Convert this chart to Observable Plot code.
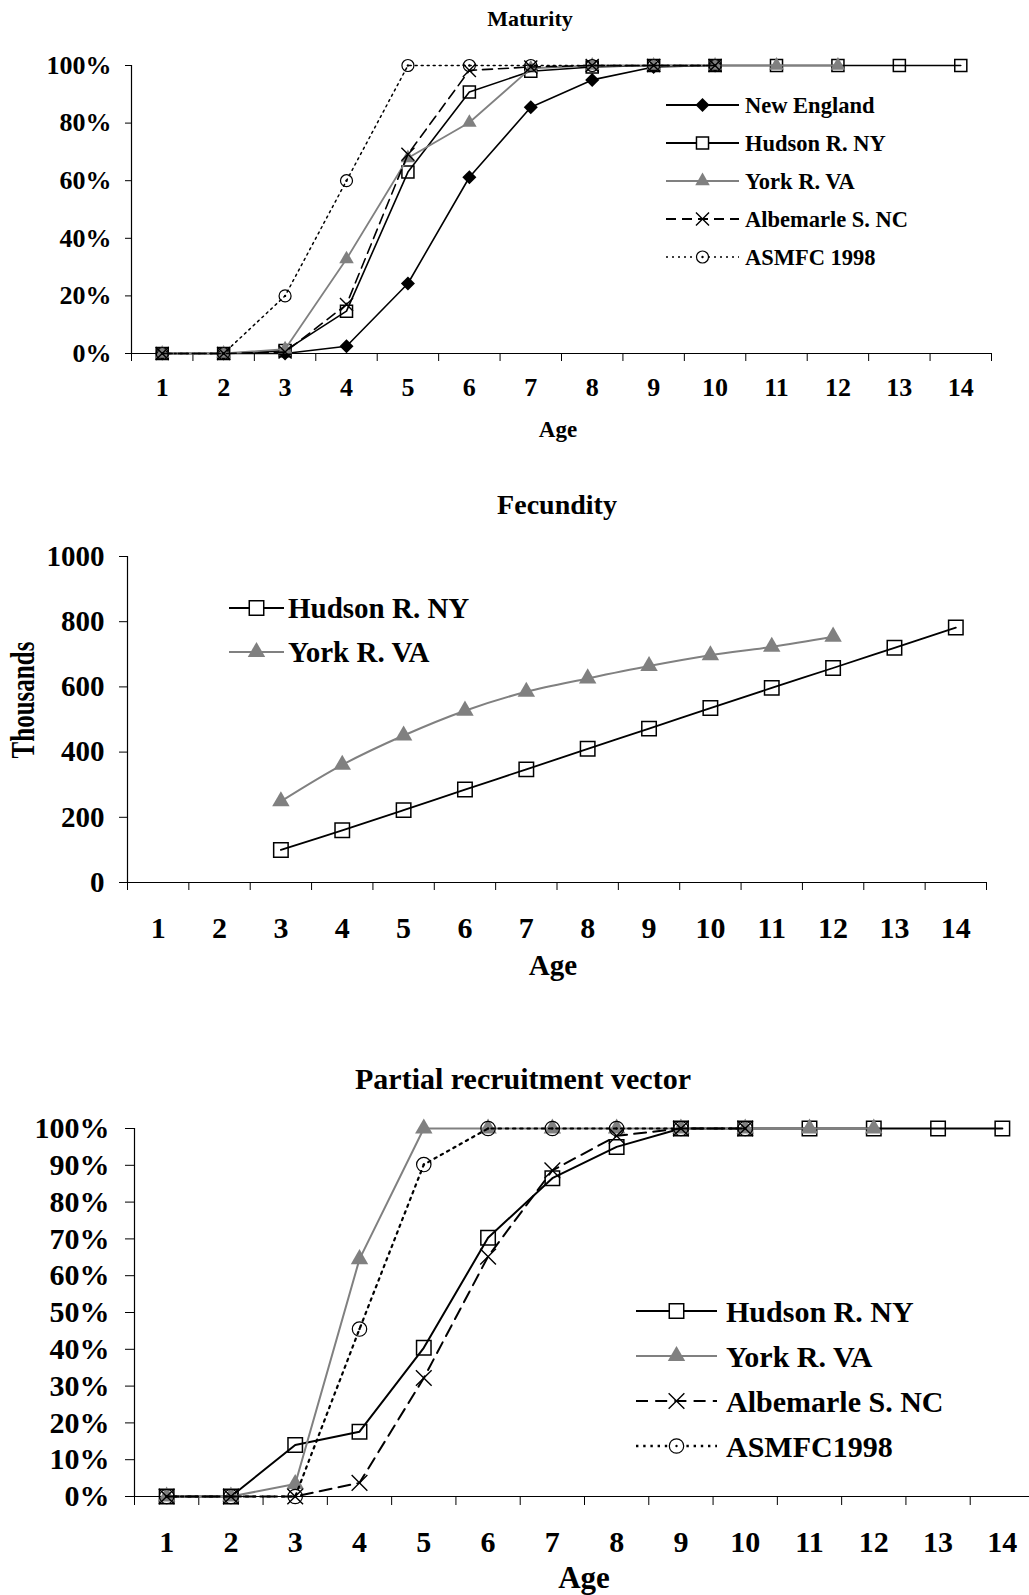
<!DOCTYPE html>
<html><head><meta charset="utf-8">
<script src="https://cdn.jsdelivr.net/npm/d3@7"></script>
<script src="https://cdn.jsdelivr.net/npm/@observablehq/plot@0.6"></script>
<style>
body{margin:0;background:#fff}
#root{position:relative;width:1029px;height:1595px;overflow:hidden;background:#fff;font-family:'Liberation Serif','Times New Roman',serif;font-weight:bold;color:#000}
.lbl{position:absolute;transform:translate(-50%,-50%);white-space:nowrap;line-height:1}
.plot{position:absolute;left:0}
#overlay{position:absolute;left:0;top:0}
</style></head><body><div id="root"></div>
<script>
// ---------------- DATA ----------------
const ages = [1,2,3,4,5,6,7,8,9,10,11,12,13,14];
const ageBounds = [0.5,1.5,2.5,3.5,4.5,5.5,6.5,7.5,8.5,9.5,10.5,11.5,12.5,13.5,14.5];

// Maturity (fraction mature), starting at age 1
const matSeriesNames = ["New England","Hudson R. NY","York R. VA","Albemarle S. NC","ASMFC 1998"];
const matNewEngland = [0,0,0,0.025,0.243,0.612,0.855,0.95,0.995,1.0];
const matHudson     = [0,0,0.01,0.147,0.63,0.908,0.98,0.995,1,1,1,1,1,1];
const matYork       = [0,0,0.015,0.328,0.679,0.802,0.99,1,1,1,1,1];
const matAlbemarle  = [0,0,0.005,0.17,0.692,0.983,0.995,1,1,1];
const matASMFC      = [0,0,0.2,0.6,1,1,1,1,1,1];
const matTicks = [0,0.2,0.4,0.6,0.8,1];

// Fecundity (thousand eggs), starting at age 3
const fecStartAge = 3;
const fecSeriesNames = ["Hudson R. NY","York R. VA"];
const fecHudson = [100,160,222,285,347,410,472,535,597,658,720,782];
const fecYork   = [249,361,451,527,585,626,664,697,723,754];
const fecTicks = [0,200,400,600,800,1000];

// Partial recruitment vector, starting at age 1
const prSeriesNames = ["Hudson R. NY","York R. VA","Albemarle S. NC","ASMFC1998"];
const prHudson    = [0,0,0.14,0.176,0.404,0.703,0.865,0.95,1,1,1,1,1,1];
const prYork      = [0,0,0.034,0.645,1,1,1,1,1,1,1,1];
const prAlbemarle = [0,0,0,0.037,0.322,0.652,0.886,0.98,1,1];
const prASMFC     = [0,0,0,0.455,0.902,1,1,1,1,1];
const prTicks = [0,0.1,0.2,0.3,0.4,0.5,0.6,0.7,0.8,0.9,1];

// ---------------- HELPERS ----------------
const FONT = "'Liberation Serif','Times New Roman',serif";
const GRAY = "#808080";
const rows = (vals, start) => vals.map((v, i) => ({age: start + i, v}));
const diamond = {draw(ctx, size){ const s = Math.sqrt(size) / 2 * Math.SQRT2; ctx.moveTo(0,-s); ctx.lineTo(s,0); ctx.lineTo(0,s); ctx.lineTo(-s,0); ctx.closePath(); }};

function seriesMarks(data, st, curve) {
  const m = [Plot.line(data, {x: "age", y: "v", stroke: st.color, strokeWidth: st.width, strokeDasharray: st.dash, curve: curve || "linear"})];
  m.push(Plot.dot(data, {x: "age", y: "v", symbol: st.symbol, r: st.r, fill: st.fill, stroke: st.mstroke, strokeWidth: st.mwidth}));
  if (st.center) m.push(Plot.dot(data, {x: "age", y: "v", r: st.center, fill: "#000", stroke: "none"}));
  return m;
}

function styles(k) {
  return {
    ne:   {color: "#000", width: 1.6, dash: null, symbol: diamond, r: 5.6*k, fill: "#000", mstroke: "none", mwidth: 0},
    hud:  {color: "#000", width: 1.6, dash: null, symbol: d3.symbolSquare, r: 6.8*k, fill: "none", mstroke: "#000", mwidth: 1.5},
    york: {color: GRAY, width: 1.8, dash: null, symbol: d3.symbolTriangle, r: 5.4*k, fill: GRAY, mstroke: "none", mwidth: 0},
    alb:  {color: "#000", width: 1.6, dash: `${10*k},${6*k}`, symbol: d3.symbolTimes, r: 6*k, fill: "none", mstroke: "#000", mwidth: 1.4},
    asm:  {color: "#000", width: 1.5, dash: `${2*k},${4*k}`, symbol: d3.symbolCircle, r: 6*k, fill: "none", mstroke: "#000", mwidth: 1.2, center: 1.2}
  };
}

const root = document.getElementById("root");
function label(text, x, y, size, extra) {
  const d = document.createElement("div");
  d.className = "lbl";
  d.textContent = text;
  d.style.left = x + "px"; d.style.top = y + "px"; d.style.fontSize = size + "px";
  if (extra) Object.assign(d.style, extra);
  root.appendChild(d);
  return d;
}
function place(svg, top) { svg.classList.add("plot"); svg.style.top = top + "px"; root.appendChild(svg); }

// ---------------- CHART 1: Maturity ----------------
{
  const S = styles(1);
  const top = 0, H = 450, x0 = 131, x1 = 991, yTop = 65, yBot = 353;
  const svg = Plot.plot({
    width: 1029, height: H, marginTop: yTop, marginBottom: H - yBot, marginLeft: x0, marginRight: 1029 - x1,
    style: {fontFamily: FONT, fontWeight: "bold", background: "transparent", color: "#000"},
    x: {domain: [0.5, 14.5], range: [x0, x1]},
    y: {domain: [0, 1], range: [yBot, yTop]},
    marks: [
      Plot.ruleY([0], {x1: 0.5, x2: 14.5, stroke: "#000", strokeWidth: 1.2}),
      Plot.ruleX([0.5], {y1: 0, y2: 1, stroke: "#000", strokeWidth: 1.2}),
      Plot.axisX({ticks: ageBounds, tickSize: 8, tickFormat: () => "", label: null}),
      Plot.axisX({ticks: ages, tickSize: 0, tickPadding: 24, fontSize: 26, label: null}),
      Plot.axisY({ticks: matTicks, tickSize: 6, tickPadding: 14, fontSize: 26, tickFormat: d3.format(".0%"), label: null}),
      ...seriesMarks(rows(matNewEngland, 1), S.ne),
      ...seriesMarks(rows(matHudson, 1), S.hud),
      ...seriesMarks(rows(matYork, 1), S.york),
      ...seriesMarks(rows(matAlbemarle, 1), S.alb),
      ...seriesMarks(rows(matASMFC, 1), S.asm)
    ]
  });
  place(svg, top);
  label("Maturity", 530, 19, 22);
  label("Age", 558, 429, 23);
}

// ---------------- CHART 2: Fecundity ----------------
{
  const S = styles(1.2);
  const top = 470, H = 520, x0 = 127, x1 = 986, yTop = 556 - top, yBot = 882 - top;
  const svg = Plot.plot({
    width: 1029, height: H, marginTop: yTop, marginBottom: H - yBot, marginLeft: x0, marginRight: 1029 - x1,
    style: {fontFamily: FONT, fontWeight: "bold", background: "transparent", color: "#000"},
    x: {domain: [0.5, 14.5], range: [x0, x1]},
    y: {domain: [0, 1000], range: [yBot, yTop]},
    marks: [
      Plot.ruleY([0], {x1: 0.5, x2: 14.5, stroke: "#000", strokeWidth: 1.2}),
      Plot.ruleX([0.5], {y1: 0, y2: 1000, stroke: "#000", strokeWidth: 1.2}),
      Plot.axisX({ticks: ageBounds, tickSize: 8, tickFormat: () => "", label: null}),
      Plot.axisX({ticks: ages, tickSize: 0, tickPadding: 34, fontSize: 30, label: null}),
      Plot.axisY({ticks: fecTicks, tickSize: 8, tickPadding: 15, fontSize: 29, tickFormat: d3.format("d"), label: null}),
      ...seriesMarks(rows(fecHudson, fecStartAge), {...S.hud, width: 1.8}, "catmull-rom"),
      ...seriesMarks(rows(fecYork, fecStartAge), {...S.york, width: 2}, "catmull-rom")
    ]
  });
  place(svg, top);
  label("Fecundity", 557, 505, 28);
  label("Age", 553, 965, 29);
  label("Thousands", 23, 700, 25, {transform: "translate(-50%,-50%) rotate(-90deg) scale(1,1.35)"});
}

// ---------------- CHART 3: Partial recruitment ----------------
{
  const S = styles(1.2);
  const top = 1040, H = 555, x0 = 134, x1 = 1034, yTop = 1128 - top, yBot = 1496 - top;
  const svg = Plot.plot({
    width: 1029, height: H, marginTop: yTop, marginBottom: H - yBot, marginLeft: x0, marginRight: 0,
    style: {fontFamily: FONT, fontWeight: "bold", background: "transparent", color: "#000"},
    x: {domain: [0.5, 14.5], range: [x0, x1]},
    y: {domain: [0, 1], range: [yBot, yTop]},
    marks: [
      Plot.ruleY([0], {x1: 0.5, x2: 14.5, stroke: "#000", strokeWidth: 1.2}),
      Plot.ruleX([0.5], {y1: 0, y2: 1, stroke: "#000", strokeWidth: 1.2}),
      Plot.axisX({ticks: ageBounds, tickSize: 9, tickFormat: () => "", label: null}),
      Plot.axisX({ticks: ages, tickSize: 0, tickPadding: 34, fontSize: 30, label: null}),
      Plot.axisY({ticks: prTicks, tickSize: 9, tickPadding: 16, fontSize: 30, tickFormat: d3.format(".0%"), label: null}),
      ...seriesMarks(rows(prHudson, 1), {...S.hud, width: 2}),
      ...seriesMarks(rows(prYork, 1), {...S.york, width: 2}),
      ...seriesMarks(rows(prAlbemarle, 1), {...S.alb, width: 2}),
      ...seriesMarks(rows(prASMFC, 1), {...S.asm, width: 2.2})
    ]
  });
  place(svg, top);
  label("Partial recruitment vector", 523, 1079, 30);
  label("Age", 584, 1577, 31);
}

// ---------------- LEGENDS ----------------
const ov = d3.select(root).append("svg").attr("id", "overlay").attr("width", 1029).attr("height", 1595);
function legend(names, stList, {xa, xb, tx, ys, fontSize}) {
  names.forEach((name, i) => {
    const st = stList[i], y = ys[i], g = ov.append("g");
    g.append("line").attr("x1", xa).attr("x2", xb).attr("y1", y).attr("y2", y)
      .attr("stroke", st.color).attr("stroke-width", st.width + 0.2).attr("stroke-dasharray", st.dash);
    const sym = d3.symbol().type(st.symbol).size(Math.PI * st.r * st.r);
    g.append("path").attr("d", sym()).attr("transform", `translate(${(xa + xb) / 2},${y})`)
      .attr("fill", st.fill === "none" ? "#fff" : st.fill).attr("stroke", st.mstroke).attr("stroke-width", st.mwidth);
    if (st.center) g.append("circle").attr("cx", (xa + xb) / 2).attr("cy", y).attr("r", st.center).attr("fill", "#000");
    g.append("text").attr("x", tx).attr("y", y).attr("dy", "0.35em").text(name)
      .attr("font-family", FONT).attr("font-weight", "bold").attr("font-size", fontSize);
  });
}
{
  const S = styles(1);
  legend(matSeriesNames, [S.ne, S.hud, S.york, S.alb, S.asm], {xa: 666, xb: 739, tx: 745, ys: [105, 143, 181, 219, 257], fontSize: 22.5});
  const S2 = styles(1.2);
  legend(fecSeriesNames, [{...S2.hud, width: 1.8}, {...S2.york, width: 2}], {xa: 229, xb: 284, tx: 288, ys: [608, 652], fontSize: 29});
  legend(prSeriesNames, [{...S2.hud, width: 2}, {...S2.york, width: 2}, {...S2.alb, width: 2}, {...S2.asm, width: 2.2}], {xa: 636, xb: 717, tx: 726, ys: [1311, 1356, 1401, 1446], fontSize: 30});
}
</script></body></html>
